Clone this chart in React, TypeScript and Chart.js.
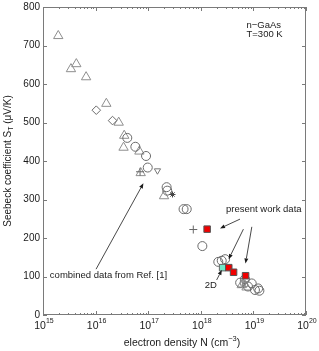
import React, { useEffect, useRef } from "react";
import { Chart, registerables } from "chart.js";
Chart.register(...registerables);

// ---- data (N in cm^-3, S in µV/K) ----
const triN = [1.95e15, 3.4e15, 4.3e15, 6.6e15, 1.6e16, 2.75e16, 3.5e16, 3.4e16, 6.8e16, 7.2e16, 2.0e17, 6.0e18, 7.4e18];
const triS = [725, 639, 652, 618, 549, 500, 466, 435, 425, 369, 309, 78, 72];
const circN = [4.0e16, 5.7e16, 9.1e16, 9.8e16, 2.24e17, 2.3e17, 4.7e17, 5.4e17, 1.07e18, 2.15e18, 2.5e18, 2.9e18, 5.6e18, 6.9e18, 7.9e18, 9.3e18, 1.07e19, 1.23e19, 1.3e19];
const circS = [460, 437, 413, 383, 332, 323, 275, 275, 179, 138, 141, 145, 84, 93, 74, 82, 65, 69, 63];
const diamN = [1.03e16, 2.1e16];
const diamS = [532, 505];
const downN = [1.5e17];
const downS = [375];
const plusN = [7.2e17, 7.0e16];
const plusS = [222, 372];
const starN = [2.9e17];
const starS = [313];
const greySqN = [6.3e18, 6.9e18];
const greySqS = [84, 80];
const presentN = [1.32e18, 3.4e18, 4.2e18, 7.1e18];
const presentS = [223, 123, 111, 102];
const twoDN = [2.6e18];
const twoDS = [123];

// axes ticks
const xDecades = [15, 16, 17, 18, 19, 20];
const yTicks = [0, 100, 200, 300, 400, 500, 600, 700, 800];

// annotations (data coordinates)
const arrowFromN = [1.02e16, 5.56e18, 6.46e18, 9.33e18, 2.0e18];
const arrowFromS = [119, 249, 223, 229, 91];
const arrowToN = [8.1e16, 2.32e18, 3.39e18, 7.08e18, 2.51e18];
const arrowToS = [342, 225, 145, 134, 117];
const noteText = ["combined data from Ref. [1]", "present work data", "2D", "n\u2212GaAs", "T=300 K"];
const noteN = [1.35e15, 3.02e18, 1.55e18, 7.4e18, 7.4e18];
const noteS = [102, 274, 78, 753, 730];
const noteAlign = ["left", "left", "center", "left", "left"];

const FONT = '"Liberation Sans", Arial, Helvetica, sans-serif';
const AXIS = "#7a7a7a";
const INK = "#1a1a1a";
const MARK = "#7c7c7c";

const pts = (xs: number[], ys: number[]) => xs.map((x, i) => ({ x, y: ys[i] }));

type Part = { t: string; size: number; dy: number };
function partsWidth(ctx: CanvasRenderingContext2D, parts: Part[]) {
  let w = 0;
  for (const p of parts) {
    ctx.font = `${p.size}px ${FONT}`;
    w += ctx.measureText(p.t).width;
  }
  return w;
}
function drawParts(ctx: CanvasRenderingContext2D, parts: Part[], x: number, y: number) {
  let cx = x;
  ctx.textAlign = "left";
  ctx.textBaseline = "middle";
  for (const p of parts) {
    ctx.font = `${p.size}px ${FONT}`;
    ctx.fillText(p.t, cx, y + p.dy);
    cx += ctx.measureText(p.t).width;
  }
}

const decor = {
  id: "decor",
  beforeDatasetsDraw(chart: any) {
    const ctx: CanvasRenderingContext2D = chart.ctx;
    const { left, right, top, bottom } = chart.chartArea;
    const xs = chart.scales.x;
    const ys = chart.scales.y;
    ctx.save();
    ctx.strokeStyle = AXIS;
    ctx.lineWidth = 1;
    ctx.strokeRect(left + 0.5, top + 0.5, right - left - 1, bottom - top - 1);
    ctx.beginPath();
    for (const v of yTicks) {
      const py = Math.round(ys.getPixelForValue(v)) + 0.5;
      ctx.moveTo(left, py);
      ctx.lineTo(left + 4, py);
      ctx.moveTo(right, py);
      ctx.lineTo(right - 4, py);
    }
    for (let i = 0; i < xDecades.length; i++) {
      const d = xDecades[i];
      const px = Math.round(xs.getPixelForValue(Math.pow(10, d))) + 0.5;
      ctx.moveTo(px, bottom);
      ctx.lineTo(px, bottom - 4);
      ctx.moveTo(px, top);
      ctx.lineTo(px, top + 4);
      if (i < xDecades.length - 1) {
        for (let m = 2; m <= 9; m++) {
          const mx = Math.round(xs.getPixelForValue(m * Math.pow(10, d))) + 0.5;
          ctx.moveTo(mx, bottom);
          ctx.lineTo(mx, bottom - 2);
          ctx.moveTo(mx, top);
          ctx.lineTo(mx, top + 2);
        }
      }
    }
    ctx.stroke();

    ctx.fillStyle = INK;
    ctx.font = `10px ${FONT}`;
    ctx.textAlign = "right";
    ctx.textBaseline = "middle";
    for (const v of yTicks) {
      ctx.fillText(String(v), left - 3, ys.getPixelForValue(v));
    }
    for (const d of xDecades) {
      const px = xs.getPixelForValue(Math.pow(10, d));
      const parts: Part[] = [
        { t: "10", size: 10.5, dy: 0 },
        { t: String(d), size: 7, dy: -5 },
      ];
      const w = partsWidth(ctx, parts);
      drawParts(ctx, parts, px - w / 2 + 1, bottom + 11);
    }

    const xt: Part[] = [
      { t: "electron density N (cm", size: 10.5, dy: 0 },
      { t: "\u22123", size: 7.5, dy: -4 },
      { t: ")", size: 10.5, dy: 0 },
    ];
    const xw = partsWidth(ctx, xt);
    drawParts(ctx, xt, 182 - xw / 2, 343);

    ctx.save();
    ctx.translate(8, (top + bottom) / 2);
    ctx.rotate(-Math.PI / 2);
    const yt: Part[] = [
      { t: "Seebeck coefficient S", size: 10, dy: 0 },
      { t: "T", size: 7, dy: 3 },
      { t: " (\u03bcV/K)", size: 10, dy: 0 },
    ];
    const yw = partsWidth(ctx, yt);
    drawParts(ctx, yt, -yw / 2, 0);
    ctx.restore();
    ctx.restore();
  },
  afterDatasetsDraw(chart: any) {
    const ctx: CanvasRenderingContext2D = chart.ctx;
    const xs = chart.scales.x;
    const ys = chart.scales.y;
    ctx.save();
    ctx.strokeStyle = INK;
    ctx.fillStyle = INK;
    ctx.lineWidth = 0.8;
    for (let i = 0; i < arrowFromN.length; i++) {
      const x1 = xs.getPixelForValue(arrowFromN[i]);
      const y1 = ys.getPixelForValue(arrowFromS[i]);
      const x2 = xs.getPixelForValue(arrowToN[i]);
      const y2 = ys.getPixelForValue(arrowToS[i]);
      const a = Math.atan2(y2 - y1, x2 - x1);
      const hl = 5, hw = 2;
      const bx = x2 - hl * Math.cos(a);
      const by = y2 - hl * Math.sin(a);
      ctx.beginPath();
      ctx.moveTo(x1, y1);
      ctx.lineTo(bx, by);
      ctx.stroke();
      ctx.beginPath();
      ctx.moveTo(x2, y2);
      ctx.lineTo(bx + hw * Math.sin(a), by - hw * Math.cos(a));
      ctx.lineTo(bx - hw * Math.sin(a), by + hw * Math.cos(a));
      ctx.closePath();
      ctx.fill();
    }
    ctx.font = `9.5px ${FONT}`;
    ctx.textBaseline = "middle";
    for (let i = 0; i < noteText.length; i++) {
      ctx.textAlign = noteAlign[i] as CanvasTextAlign;
      ctx.fillText(noteText[i], xs.getPixelForValue(noteN[i]), ys.getPixelForValue(noteS[i]));
    }
    ctx.restore();
  },
};

export default function App() {
  const ref = useRef<HTMLCanvasElement | null>(null);
  useEffect(() => {
    if (!ref.current) return;
    const hollow = (label: string, data: any[], style: string, r: number, rot = 0, color = MARK) => ({
      label,
      data,
      pointStyle: style,
      pointRadius: r,
      pointRotation: rot,
      pointBackgroundColor: "rgba(0,0,0,0)",
      pointBorderColor: color,
      pointBorderWidth: 1,
      showLine: false,
    });
    const chart = new Chart(ref.current, {
      type: "scatter",
      data: {
        datasets: [
          {
            label: "present work",
            data: pts(presentN, presentS),
            pointStyle: "rect",
            pointRadius: 4.6,
            pointBackgroundColor: "#f00000",
            pointBorderColor: "#555555",
            pointBorderWidth: 1,
          },
          {
            label: "2D",
            data: pts(twoDN, twoDS),
            pointStyle: "rect",
            pointRadius: 4.6,
            pointBackgroundColor: "#70e8c8",
            pointBorderColor: "#666666",
            pointBorderWidth: 1,
          },
          hollow("plus", pts(plusN, plusS), "cross", 4, 0, "#666"),
          hollow("star", pts(starN, starS), "star", 3, 0, "#444"),
          hollow("greysq", pts(greySqN, greySqS), "rect", 3.5, 0, "#888"),
          hollow("down", pts(downN, downS), "triangle", 3.6, 180, "#777"),
          hollow("circles", pts(circN, circS), "circle", 4.5, 0, "#6a6a6a"),
          hollow("diamonds", pts(diamN, diamS), "rectRot", 4.3, 0, "#6a6a6a"),
          hollow("triangles", pts(triN, triS), "triangle", 5.4, 0, "#8e8e8e"),
        ] as any,
      },
      options: {
        animation: false,
        responsive: false,
        devicePixelRatio: 1,
        layout: { padding: { left: 43, top: 7, right: 13, bottom: 36 } },
        plugins: { legend: { display: false }, tooltip: { enabled: false } },
        scales: {
          x: { type: "logarithmic", min: 1e15, max: 1e20, display: false },
          y: { type: "linear", min: 0, max: 800, display: false },
        },
      },
      plugins: [decor],
    });
    return () => chart.destroy();
  }, []);
  return (
    <div style={{ position: "fixed", left: 0, top: 0, width: 319, height: 351, background: "#fff" }}>
      <canvas ref={ref} width={319} height={351} style={{ width: 319, height: 351, display: "block" }} />
    </div>
  );
}
